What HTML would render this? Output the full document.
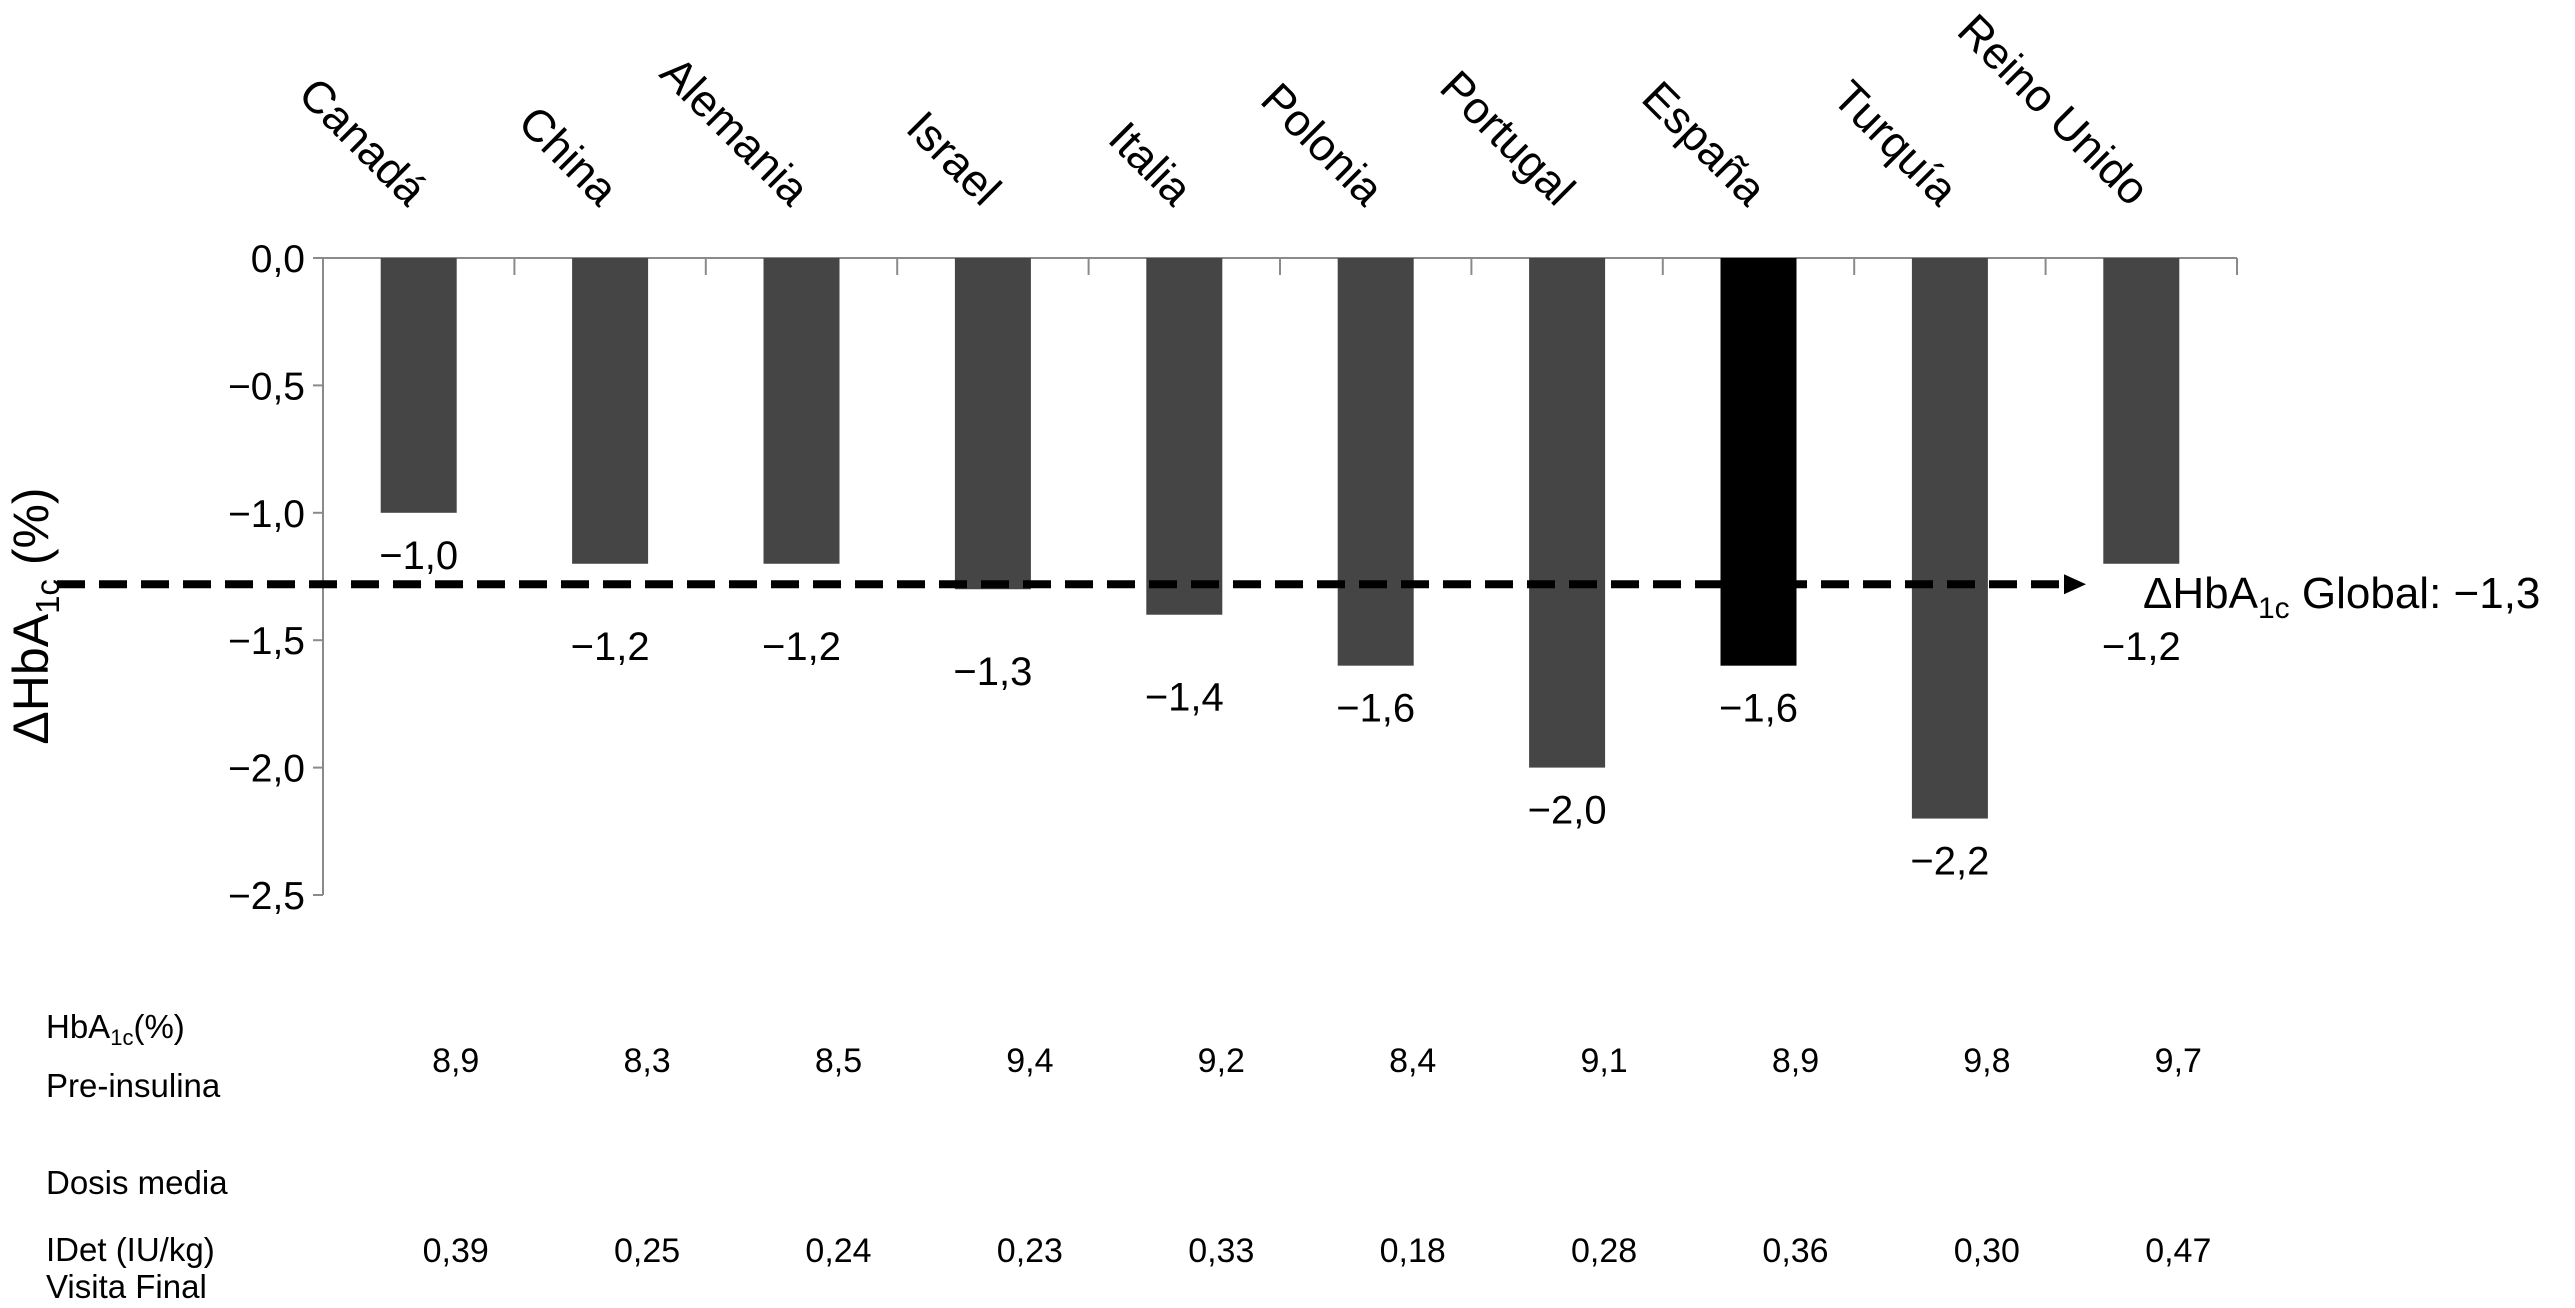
<!DOCTYPE html>
<html><head><meta charset="utf-8"><style>
html,body{margin:0;padding:0;background:#fff;}
svg{display:block;font-family:"Liberation Sans Narrow","Liberation Sans",sans-serif;}
</style></head><body>
<svg id="chart" width="2575" height="1308" viewBox="0 0 2575 1308" xmlns="http://www.w3.org/2000/svg">
<g id="axes"></g>
<g id="bars"></g>
<g id="labels"></g>
<text transform="translate(48,616) rotate(-90)" text-anchor="middle" font-size="50" font-family="Liberation Sans, sans-serif">ΔHbA<tspan font-size="33" dy="11">1c</tspan><tspan dy="-11"> (%)</tspan></text>
<text x="2143" y="608" font-size="44">ΔHbA<tspan font-size="30" dy="10">1c</tspan><tspan dy="-10"> Global: −1,3</tspan></text>
<g font-size="33">
<text x="46" y="1038">HbA<tspan font-size="22" dy="7">1c</tspan><tspan dy="-7">(%)</tspan></text>
<text x="46" y="1097">Pre-insulina</text>
</g>
<g font-size="33">
<text x="46" y="1194">Dosis media</text>
<text x="46" y="1261">IDet (IU/kg)</text>
<text x="46" y="1298">Visita Final</text>
</g>
</svg>
<script>
const categories = ["Canadá","China","Alemania","Israel","Italia","Polonia","Portugal","España","Turquía","Reino Unido"];
const deltaValues = [-1.0,-1.2,-1.2,-1.3,-1.4,-1.6,-2.0,-1.6,-2.2,-1.2];
const deltaLabels = ["−1,0","−1,2","−1,2","−1,3","−1,4","−1,6","−2,0","−1,6","−2,2","−1,2"];
const highlighted = ["España"];
const globalValue = -1.3;
const yTicks = [0,-0.5,-1.0,-1.5,-2.0,-2.5];
const yTickLabels = ["0,0","−0,5","−1,0","−1,5","−2,0","−2,5"];
const preInsulin = ["8,9","8,3","8,5","9,4","9,2","8,4","9,1","8,9","9,8","9,7"];
const meanDose = ["0,39","0,25","0,24","0,23","0,33","0,18","0,28","0,36","0,30","0,47"];

const NS="http://www.w3.org/2000/svg";
const x0=323, x1=2237, yTop=258, pxPerUnit=254.8;
const bw=(x1-x0)/categories.length;
function y(v){return yTop - v*pxPerUnit;}
function cx(i){return x0 + (i+0.5)*bw;}
function mk(tag,attrs,parent){const e=document.createElementNS(NS,tag);for(const k in attrs)e.setAttribute(k,attrs[k]);parent.appendChild(e);return e;}
const axes=document.getElementById('axes'), bars=document.getElementById('bars'), labels=document.getElementById('labels');

let l=mk('line',{x1:x0,y1:y(0),x2:x1,y2:y(0),stroke:'#8a8a8a','stroke-width':2},axes);


l=mk('line',{x1:x0,y1:y(0),x2:x0,y2:y(-2.5),stroke:'#8a8a8a','stroke-width':2},axes);


for(let i=0;i<=categories.length;i++){
  const t=mk('line',{x1:x0+i*bw,y1:y(0),x2:x0+i*bw,y2:y(0)+17,stroke:'#8a8a8a','stroke-width':2},axes);
  
  
}
yTicks.forEach((v,i)=>{
  const t=mk('line',{x1:x0-10,y1:y(v),x2:x0,y2:y(v),stroke:'#8a8a8a','stroke-width':2},axes);
  
  
  const tx=mk('text',{x:x0-18,y:y(v)+14,'text-anchor':'end','font-size':39},axes);
  tx.textContent=yTickLabels[i];
  
  
});
categories.forEach((c,i)=>{
  const v=deltaValues[i];
  const r=mk('rect',{x:cx(i)-38,y:y(0),width:76,height:y(v)-y(0),fill:highlighted.includes(c)?'#000':'#454545'},bars);
  
  
  const off=(v>=-1.5 && v<=-1.1)?82:42;
  const vl=mk('text',{x:cx(i),y:y(v)+off+14,'text-anchor':'middle','font-size':40},labels);
  vl.textContent=deltaLabels[i];
  
  
  const cl=mk('text',{transform:`translate(${cx(i)-11},${208}) rotate(45)`,'text-anchor':'end','font-size':45},labels);
  cl.textContent=c;
  
  
  const p=mk('text',{x:cx(i)+37,y:1072,'text-anchor':'middle','font-size':34},labels);
  p.textContent=preInsulin[i];
  
  
  const d=mk('text',{x:cx(i)+37,y:1262,'text-anchor':'middle','font-size':34},labels);
  d.textContent=meanDose[i];
  
  
});
const gy=y(globalValue)-5;
const dl=mk('line',{x1:57,y1:gy,x2:2062,y2:gy,stroke:'#000','stroke-width':8,'stroke-dasharray':'28 14'},bars);


const ah=mk('polygon',{points:`2064,${gy-10} 2086,${gy} 2064,${gy+10}`,fill:'#000'},bars);


</script>
</body></html>
